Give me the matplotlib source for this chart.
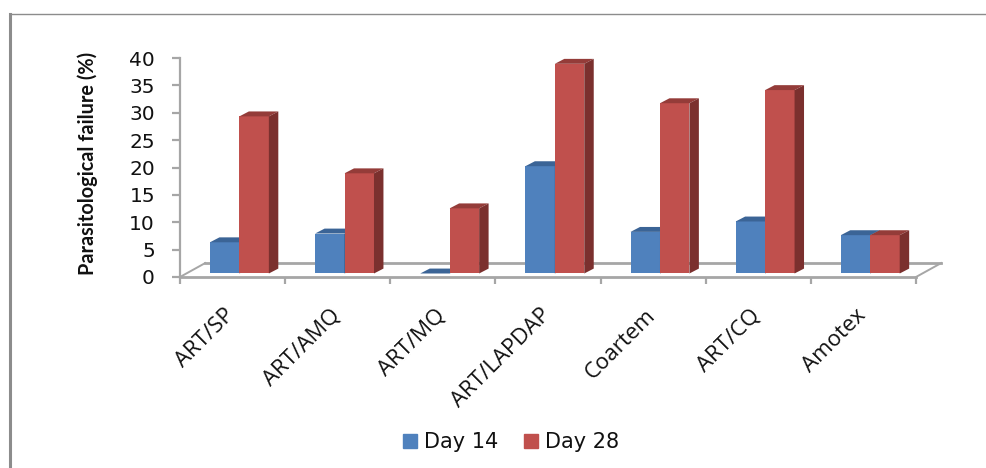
import matplotlib
matplotlib.use("Agg")
from matplotlib import pyplot as plt
from matplotlib.lines import Line2D
from matplotlib.patches import Patch, Polygon

# Data
categories = ["ART/SP", "ART/AMQ", "ART/MQ", "ART/LAPDAP", "Coartem", "ART/CQ", "Amotex"]
day14 = [5.7, 7.3, 0, 19.6, 7.6, 9.5, 7.0]
day28 = [28.7, 18.3, 11.9, 38.3, 31.1, 33.5, 7.0]
y_ticks = [0, 5, 10, 15, 20, 25, 30, 35, 40]

W, H = 987, 468
GREY = "#a6a6a6"
BLUE, BLUE_TOP, BLUE_SIDE = "#4f81bd", "#3b6496", "#2f5077"
RED, RED_TOP, RED_SIDE = "#c0504d", "#943c39", "#7b302e"

# depth of the fake 3D box, in data units
DX, DY = 0.09, 0.9
BAR_W = 0.28
SHIFT = 0.065
FLOOR = 0.64


def box(ax, x, value, front, top, side):
    y0, y1 = FLOOR, FLOOR + value
    if value > 0:
        ax.bar(x, value, BAR_W, bottom=y0, align="edge", color=front, zorder=3, clip_on=False)
    ax.add_patch(Polygon([(x, y1), (x + BAR_W, y1), (x + BAR_W + DX, y1 + DY), (x + DX, y1 + DY)],
                         color=top, lw=0, zorder=3, clip_on=False))
    ax.add_patch(Polygon([(x + BAR_W, y0), (x + BAR_W + DX, y0 + DY), (x + BAR_W + DX, y1 + DY), (x + BAR_W, y1)],
                         color=side, lw=0, zorder=3, clip_on=False))


fig = plt.figure(figsize=(W / 100, H / 100), dpi=100)
ax = fig.add_axes([180 / W, 1 - 277 / H, 736 / W, 219 / H])
ax.set_xlim(0, 7)
ax.set_ylim(0, 40)
ax.patch.set_alpha(0)

for spine in ["top", "right"]:
    ax.spines[spine].set_visible(False)
ax.spines["left"].set_color(GREY)
ax.spines["bottom"].set_color(GREY)
ax.spines["left"].set_linewidth(1.6)
ax.spines["bottom"].set_linewidth(2)

# floor of the box
ax.plot([0.24, 7.24], [2.55, 2.55], color=GREY, lw=2, zorder=1, clip_on=False)
ax.plot([0, 0.24], [0, 2.55], color=GREY, lw=1.4, zorder=1, clip_on=False)
ax.plot([7, 7.24], [0, 2.55], color=GREY, lw=1.4, zorder=1, clip_on=False)

for i in range(len(categories)):
    left = i + SHIFT + 0.22
    box(ax, left, day14[i], BLUE, BLUE_TOP, BLUE_SIDE)
    box(ax, left + BAR_W, day28[i], RED, RED_TOP, RED_SIDE)

ax.set_yticks(y_ticks)
ax.set_yticklabels([str(v) for v in y_ticks], fontsize=14.5, color="#111111")
ax.tick_params(axis="y", length=6, width=1.6, color=GREY, pad=12)

ax.set_xticks(range(len(categories) + 1))
ax.set_xticklabels([])
ax.tick_params(axis="x", which="major", length=5, width=1.6, color=GREY)
ax.set_xticks([i + 0.42 for i in range(len(categories))], minor=True)
ax.set_xticklabels(categories, minor=True, rotation=45, ha="right", va="top",
                   rotation_mode="anchor", fontsize=16, color="#111111", family="Open Sans")
ax.tick_params(axis="x", which="minor", length=0, pad=20)

fig.text(88 / W, 1 - 163 / H, "Parasitological failure (%)", rotation=90, ha="center", va="center",
         fontsize=14.3, family="Lato", fontweight="bold", color="#111111")

handles = [Patch(color=BLUE, label="Day 14"), Patch(color=RED, label="Day 28")]
fig.legend(handles=handles, loc="center", bbox_to_anchor=(511 / W, 1 - 442 / H), ncol=2, frameon=False,
           fontsize=15, handlelength=0.67, handleheight=0.67, handletextpad=0.35, columnspacing=1.2,
           labelcolor="#111111")

# picture frame
fig.add_artist(Line2D([10.5 / W, 10.5 / W], [0, 1 - 13.5 / H], color="#8c8c8c", lw=2.2))
fig.add_artist(Line2D([10 / W, 1], [1 - 13.5 / H, 1 - 13.5 / H], color="#8c8c8c", lw=1))

fig.savefig("out.png", dpi=100)
